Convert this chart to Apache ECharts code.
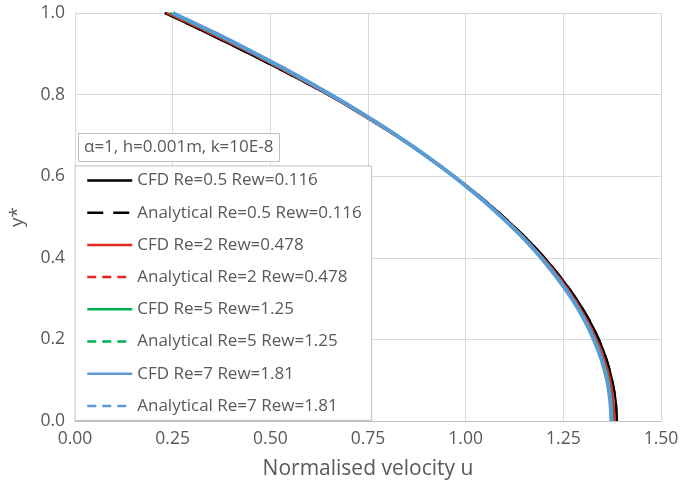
<!DOCTYPE html>
<html>
<head>
<meta charset="utf-8">
<script src="https://cdn.jsdelivr.net/npm/echarts@6/dist/echarts.min.js"></script>
<style>
  html, body { margin: 0; padding: 0; background: #fff; }
  #chart { width: 682px; height: 490px; }
</style>
</head>
<body>
<div id="chart"></div>
<script>
// Dimensionless wall-normal position y*
const yStar = [0, 0.05, 0.1, 0.15, 0.2, 0.25, 0.3, 0.35, 0.4, 0.45, 0.5,
               0.55, 0.6, 0.65, 0.7, 0.75, 0.8, 0.85, 0.9, 0.95, 1.0];

// Normalised velocity u for each case
const cfdRe05 = [1.387, 1.384, 1.375, 1.361, 1.341, 1.315, 1.283, 1.245, 1.202, 1.153, 1.098,
                 1.037, 0.970, 0.898, 0.820, 0.736, 0.647, 0.549, 0.446, 0.340, 0.230];
const anaRe05 = [1.387, 1.384, 1.375, 1.361, 1.341, 1.315, 1.283, 1.245, 1.202, 1.153, 1.098,
                 1.037, 0.970, 0.898, 0.820, 0.736, 0.647, 0.549, 0.446, 0.340, 0.230];
const cfdRe2 = [1.381, 1.378, 1.370, 1.355, 1.335, 1.309, 1.278, 1.241, 1.198, 1.149, 1.095,
                1.034, 0.968, 0.897, 0.819, 0.736, 0.648, 0.553, 0.453, 0.347, 0.235];
const anaRe2 = [1.381, 1.378, 1.370, 1.355, 1.335, 1.309, 1.278, 1.241, 1.198, 1.149, 1.095,
                1.034, 0.968, 0.897, 0.819, 0.736, 0.648, 0.553, 0.453, 0.347, 0.235];
const cfdRe5 = [1.376, 1.373, 1.365, 1.351, 1.331, 1.305, 1.274, 1.237, 1.195, 1.147, 1.093,
                1.033, 0.968, 0.897, 0.821, 0.739, 0.651, 0.557, 0.458, 0.354, 0.243];
const anaRe5 = [1.376, 1.373, 1.365, 1.351, 1.331, 1.305, 1.274, 1.237, 1.195, 1.147, 1.093,
                1.033, 0.968, 0.897, 0.821, 0.739, 0.651, 0.557, 0.458, 0.354, 0.243];
const cfdRe7 = [1.373, 1.370, 1.362, 1.348, 1.328, 1.303, 1.272, 1.235, 1.193, 1.146, 1.092,
                1.033, 0.969, 0.899, 0.823, 0.741, 0.654, 0.562, 0.463, 0.360, 0.250];
const anaRe7 = [1.373, 1.370, 1.362, 1.348, 1.328, 1.303, 1.272, 1.235, 1.193, 1.146, 1.092,
                1.033, 0.969, 0.899, 0.823, 0.741, 0.654, 0.562, 0.463, 0.360, 0.250];

const seriesNames = [
  'CFD Re=0.5 Rew=0.116', 'Analytical Re=0.5 Rew=0.116',
  'CFD Re=2 Rew=0.478', 'Analytical Re=2 Rew=0.478',
  'CFD Re=5 Rew=1.25', 'Analytical Re=5 Rew=1.25',
  'CFD Re=7 Rew=1.81', 'Analytical Re=7 Rew=1.81'
];
const seriesValues = [cfdRe05, anaRe05, cfdRe2, anaRe2, cfdRe5, anaRe5, cfdRe7, anaRe7];

const xTicks = { min: 0, max: 1.5, step: 0.25 };
const yTicks = { min: 0, max: 1.0, step: 0.2 };

const FONT = '"Open Sans", sans-serif';
const TXT = '#595959';

const styles = [
  { color: '#000000', width: 2.2, type: 'solid' },
  { color: '#000000', width: 2.2, type: [16, 10] },
  { color: '#e3261c', width: 2.2, type: 'solid' },
  { color: '#e3261c', width: 2.2, type: [9, 6] },
  { color: '#00b050', width: 2.4, type: 'solid' },
  { color: '#00b050', width: 2.4, type: [9, 6] },
  { color: '#5b9bd5', width: 4, type: 'solid' },
  { color: '#5b9bd5', width: 2.4, type: [9, 6] }
];

const series = seriesNames.map((name, i) => ({
  name,
  type: 'line',
  data: seriesValues[i].map((u, k) => [u, yStar[k]]),
  showSymbol: false,
  symbol: 'none',
  smooth: 0.3,
  lineStyle: { color: styles[i].color, width: styles[i].width, type: styles[i].type },
  itemStyle: { color: styles[i].color },
  z: 2 + i
}));

const chart = echarts.init(document.getElementById('chart'), null, { renderer: 'canvas' });
chart.setOption({
  animation: false,
  backgroundColor: '#ffffff',
  title: {
    text: 'α=1, h=0.001m, k=10E-8',
    left: 78, top: 133,
    padding: [3, 6, 3, 6],
    borderColor: '#bfbfbf', borderWidth: 1,
    backgroundColor: '#ffffff',
    textStyle: { fontFamily: FONT, fontSize: 17, fontWeight: 'normal', color: TXT, lineHeight: 23 }
  },
  legend: {
    orient: 'vertical',
    left: 75, top: 166,
    padding: [6, 10, 6, 11],
    itemGap: 15.2,
    itemWidth: 45, itemHeight: 16,
    borderColor: '#bfbfbf', borderWidth: 1,
    backgroundColor: '#ffffff',
    itemStyle: { opacity: 0 },
    data: seriesNames.map((n, i) => ({
      name: n,
      itemStyle: { opacity: 0 },
      lineStyle: { color: styles[i].color, width: 2.5, type: styles[i].type }
    })),
    textStyle: { fontFamily: FONT, fontSize: 17, color: TXT },
    z: 20
  },
  grid: { left: 73, right: 21, top: 13, bottom: 69, containLabel: false },
  xAxis: {
    type: 'value',
    min: xTicks.min, max: xTicks.max, interval: xTicks.step,
    name: 'Normalised velocity u',
    nameLocation: 'middle', nameGap: 38,
    nameTextStyle: { fontFamily: FONT, fontSize: 21, color: TXT },
    axisLine: { show: true, lineStyle: { color: '#bfbfbf', width: 1 } },
    axisTick: { show: false },
    axisLabel: { fontFamily: FONT, fontSize: 17.5, color: TXT, margin: 9,
                 formatter: v => v.toFixed(2) },
    splitLine: { show: true, lineStyle: { color: '#d9d9d9', width: 1 } }
  },
  yAxis: {
    type: 'value',
    min: yTicks.min, max: yTicks.max, interval: yTicks.step,
    name: 'y*',
    nameLocation: 'middle', nameGap: 48,
    nameRotate: 90,
    nameTextStyle: { fontFamily: FONT, fontSize: 19, color: TXT },
    axisLine: { show: true, lineStyle: { color: '#d9d9d9', width: 1 } },
    axisTick: { show: false },
    axisLabel: { fontFamily: FONT, fontSize: 17.5, color: TXT, margin: 10,
                 formatter: v => v.toFixed(1) },
    splitLine: { show: true, lineStyle: { color: '#d9d9d9', width: 1 } }
  },
  series
});
</script>
</body>
</html>
